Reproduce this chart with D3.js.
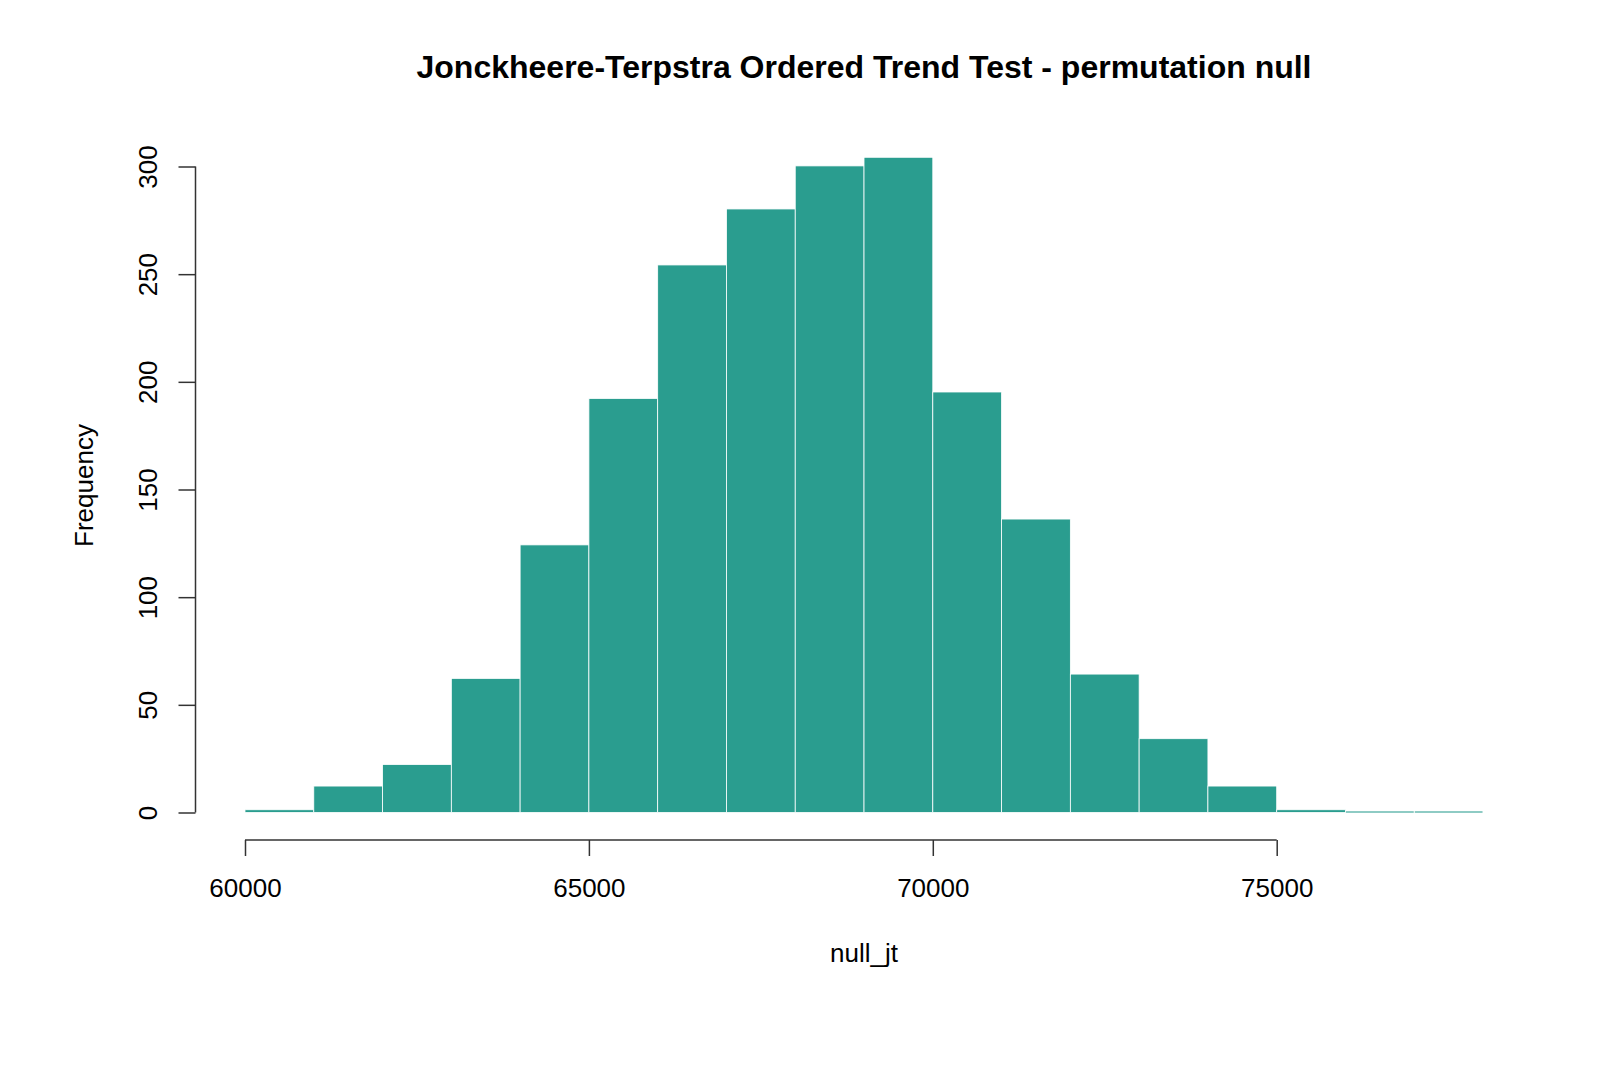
<!DOCTYPE html>
<html>
<head>
<meta charset="utf-8">
<script src="https://cdn.jsdelivr.net/npm/d3@7"></script>
<style>
  html, body { margin: 0; padding: 0; background: #ffffff; }
  svg { display: block; font-family: "Liberation Sans", Arial, sans-serif; }
</style>
</head>
<body>
<svg id="chart" width="1600" height="1067"></svg>
<script>
// ---- data ----
const binStarts = [60000, 61000, 62000, 63000, 64000, 65000, 66000, 67000, 68000,
                   69000, 70000, 71000, 72000, 73000, 74000, 75000, 76000, 77000];
const binWidth = 1000;
const counts = [1, 12, 22, 62, 124, 192, 254, 280, 300, 304, 195, 136, 64, 34, 12, 1, 0, 0];
const xTicks = [60000, 65000, 70000, 75000];
const yTicks = [0, 50, 100, 150, 200, 250, 300];
const titleText = "Jonckheere-Terpstra Ordered Trend Test - permutation null";
const xLabel = "null_jt";
const yLabel = "Frequency";

// ---- layout ----
const svg = d3.select("#chart");
const barColor = "#2a9d8f";
const axisColor = "#333333";

const x = d3.scaleLinear().domain([60000, 75000]).range([245, 1276.7]);
const y = d3.scaleLinear().domain([0, 300]).range([812.5, 166.5]);
const xAxisY = 840;
const yAxisX = 195.5;

// bars
const bars = svg.append("g");
binStarts.forEach((b, i) => {
  const c = counts[i];
  const x0 = x(b), x1 = x(b + binWidth);
  if (c > 0) {
    bars.append("rect")
      .attr("x", x0).attr("y", y(c) - 0.6)
      .attr("width", x1 - x0).attr("height", y(0) - y(c) + 0.6)
      .attr("fill", barColor)
      .attr("stroke", "#ffffff").attr("stroke-width", 0.8);
  } else {
    bars.append("line")
      .attr("x1", x0 + 0.5).attr("x2", x1 - 0.5)
      .attr("y1", y(0) - 0.5).attr("y2", y(0) - 0.5)
      .attr("stroke", barColor).attr("stroke-opacity", 0.7).attr("stroke-width", 1.5);
  }
});

// y axis
const yAxis = d3.axisLeft(y).tickValues(yTicks).tickSize(17).tickPadding(0).tickFormat(d3.format("d"));
const gy = svg.append("g").attr("transform", `translate(${yAxisX},0)`).call(yAxis);
gy.select(".domain").remove();
gy.append("line").attr("x1", 0).attr("x2", 0).attr("y1", y(0)).attr("y2", y(300))
  .attr("stroke", axisColor).attr("stroke-width", 1.5);
gy.selectAll(".tick line").attr("stroke", axisColor).attr("stroke-width", 1.5);
gy.selectAll(".tick text")
  .attr("x", 0).attr("y", 0)
  .attr("transform", `translate(${148 - yAxisX},0) rotate(-90)`)
  .attr("text-anchor", "middle").attr("dy", "0.35em")
  .attr("fill", "#000").style("font-size", "26px")
  .style("font-family", '"Liberation Sans", Arial, sans-serif');

// x axis
const xAxis = d3.axisBottom(x).tickValues(xTicks).tickSize(16).tickPadding(0).tickFormat(d3.format("d"));
const gx = svg.append("g").attr("transform", `translate(0,${xAxisY})`).call(xAxis);
gx.select(".domain").remove();
gx.append("line").attr("x1", x(60000)).attr("x2", x(75000)).attr("y1", 0).attr("y2", 0)
  .attr("stroke", axisColor).attr("stroke-width", 1.5);
gx.selectAll(".tick line").attr("stroke", axisColor).attr("stroke-width", 1.5);
gx.selectAll(".tick text")
  .attr("y", 48).attr("dy", "0.35em")
  .attr("fill", "#000").style("font-size", "26px")
  .style("font-family", '"Liberation Sans", Arial, sans-serif');

// title
svg.append("text")
  .attr("x", 864).attr("y", 78)
  .attr("text-anchor", "middle")
  .style("font-size", "32px").style("font-weight", "bold")
  .attr("fill", "#000")
  .text(titleText);

// x label
svg.append("text")
  .attr("x", 864).attr("y", 962)
  .attr("text-anchor", "middle")
  .style("font-size", "26px").attr("fill", "#000")
  .text(xLabel);

// y label
svg.append("text")
  .attr("transform", `translate(92.7,485.5) rotate(-90)`)
  .attr("text-anchor", "middle")
  .style("font-size", "26px").attr("fill", "#000")
  .text(yLabel);
</script>
</body>
</html>
